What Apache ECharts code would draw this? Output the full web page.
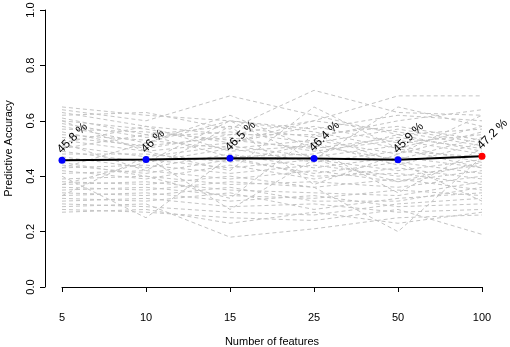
<!DOCTYPE html>
<html>
<head>
<meta charset="utf-8">
<script src="https://cdn.jsdelivr.net/npm/echarts@6/dist/echarts.min.js"></script>
<style>
  html, body { margin: 0; padding: 0; background: #fff; }
  #chart { width: 510px; height: 347px; }
</style>
</head>
<body>
<div id="chart"></div>
<script>
const featureCounts = ['5', '10', '15', '25', '50', '100'];
const yTicks = [0, 0.2, 0.4, 0.6, 0.8, 1.0];

/* mean accuracy (black line) */
const meanAccuracy = [0.458, 0.460, 0.465, 0.464, 0.459, 0.472];
const meanLabels = ['45.8 %', '46 %', '46.5 %', '46.4 %', '45.9 %', '47.2 %'];

/* individual runs (grey dashed lines) */
const runs = [
    [0.65, 0.62, 0.60, 0.57, 0.62, 0.60],
    [0.64, 0.60, 0.69, 0.62, 0.55, 0.57],
    [0.63, 0.58, 0.55, 0.60, 0.69, 0.69],
    [0.62, 0.63, 0.57, 0.71, 0.63, 0.62],
    [0.61, 0.55, 0.58, 0.54, 0.60, 0.64],
    [0.60, 0.57, 0.52, 0.58, 0.52, 0.55],
    [0.59, 0.54, 0.56, 0.52, 0.57, 0.52],
    [0.58, 0.52, 0.60, 0.56, 0.50, 0.58],
    [0.57, 0.56, 0.53, 0.50, 0.54, 0.50],
    [0.56, 0.50, 0.55, 0.55, 0.58, 0.53],
    [0.55, 0.53, 0.50, 0.53, 0.48, 0.56],
    [0.54, 0.51, 0.54, 0.49, 0.53, 0.48],
    [0.53, 0.49, 0.52, 0.60, 0.56, 0.51],
    [0.52, 0.58, 0.49, 0.51, 0.46, 0.54],
    [0.51, 0.47, 0.51, 0.47, 0.51, 0.45],
    [0.50, 0.55, 0.47, 0.48, 0.55, 0.49],
    [0.49, 0.45, 0.50, 0.45, 0.49, 0.47],
    [0.48, 0.48, 0.45, 0.52, 0.44, 0.52],
    [0.47, 0.43, 0.48, 0.43, 0.47, 0.43],
    [0.46, 0.46, 0.43, 0.46, 0.42, 0.46],
    [0.44, 0.41, 0.46, 0.41, 0.45, 0.41],
    [0.43, 0.44, 0.41, 0.44, 0.40, 0.44],
    [0.42, 0.39, 0.44, 0.39, 0.43, 0.39],
    [0.41, 0.42, 0.39, 0.42, 0.38, 0.42],
    [0.40, 0.25, 0.47, 0.40, 0.41, 0.37],
    [0.39, 0.40, 0.37, 0.38, 0.36, 0.40],
    [0.38, 0.37, 0.40, 0.36, 0.39, 0.35],
    [0.37, 0.38, 0.35, 0.34, 0.33, 0.38],
    [0.36, 0.35, 0.38, 0.36, 0.20, 0.47],
    [0.35, 0.36, 0.33, 0.32, 0.35, 0.33],
    [0.34, 0.33, 0.36, 0.31, 0.31, 0.36],
    [0.33, 0.34, 0.31, 0.33, 0.29, 0.30],
    [0.32, 0.31, 0.34, 0.28, 0.32, 0.34],
    [0.31, 0.32, 0.29, 0.30, 0.27, 0.28],
    [0.30, 0.29, 0.27, 0.26, 0.30, 0.32],
    [0.29, 0.30, 0.18, 0.21, 0.25, 0.26],
    [0.28, 0.27, 0.25, 0.24, 0.28, 0.19],
    [0.27, 0.28, 0.23, 0.27, 0.23, 0.27],
    [0.45, 0.40, 0.32, 0.55, 0.45, 0.31],
    [0.37, 0.45, 0.60, 0.46, 0.65, 0.58],
    [0.52, 0.42, 0.58, 0.37, 0.48, 0.62],
    [0.60, 0.49, 0.42, 0.65, 0.50, 0.43],
    [0.33, 0.47, 0.28, 0.46, 0.38, 0.45],
    [0.43, 0.52, 0.62, 0.50, 0.34, 0.50]
];

const FONT = 'Liberation Sans';

let chart = echarts.init(document.getElementById('chart'));

let series = runs.map(function (r) {
    return {
        type: 'line',
        data: r,
        silent: true,
        symbol: 'none',
        z: 1,
        lineStyle: { color: '#c4c4c4', width: 1, type: [4, 3] }
    };
});

series.push({
    type: 'line',
    data: meanAccuracy.map(function (v, i) {
        return {
            value: v,
            itemStyle: { color: i === meanAccuracy.length - 1 ? '#ff0000' : '#0000ff' }
        };
    }),
    z: 5,
    symbol: 'circle',
    symbolSize: 7,
    lineStyle: { color: '#000', width: 2 },
    label: {
        show: true,
        position: [5, -1],
        rotate: 45,
        align: 'left',
        verticalAlign: 'bottom',
        fontFamily: FONT,
        fontSize: 12,
        color: '#000',
        formatter: function (p) { return meanLabels[p.dataIndex]; }
    }
});

let option = {
    animation: false,
    backgroundColor: '#fff',
    grid: { left: 62, right: 28, top: 10, bottom: 60, outerBoundsMode: 'none', containLabel: false },
    xAxis: {
        type: 'category',
        data: featureCounts,
        boundaryGap: false,
        offset: 13,
        name: 'Number of features',
        nameLocation: 'middle',
        nameGap: 36,
        nameTextStyle: { fontFamily: FONT, fontSize: 11, color: '#000' },
        axisLine: { lineStyle: { color: '#000', width: 1 } },
        axisTick: { alignWithLabel: true, length: 5, lineStyle: { color: '#000' } },
        axisLabel: { fontFamily: FONT, fontSize: 11, color: '#000', margin: 12 },
        splitLine: { show: false }
    },
    yAxis: {
        type: 'value',
        min: yTicks[0],
        max: yTicks[yTicks.length - 1],
        interval: 0.2,
        offset: 17,
        name: 'Predictive Accuracy',
        nameLocation: 'middle',
        nameGap: 31,
        nameRotate: 90,
        nameTextStyle: { fontFamily: FONT, fontSize: 11, color: '#000' },
        axisLine: { show: true, lineStyle: { color: '#000', width: 1 } },
        axisTick: { show: true, length: 5, lineStyle: { color: '#000' } },
        axisLabel: {
            rotate: 90,
            margin: 9,
            fontFamily: FONT,
            fontSize: 11,
            color: '#000',
            formatter: function (v) { return v.toFixed(1); }
        },
        splitLine: { show: false }
    },
    series: series
};

chart.setOption(option);
</script>
</body>
</html>
